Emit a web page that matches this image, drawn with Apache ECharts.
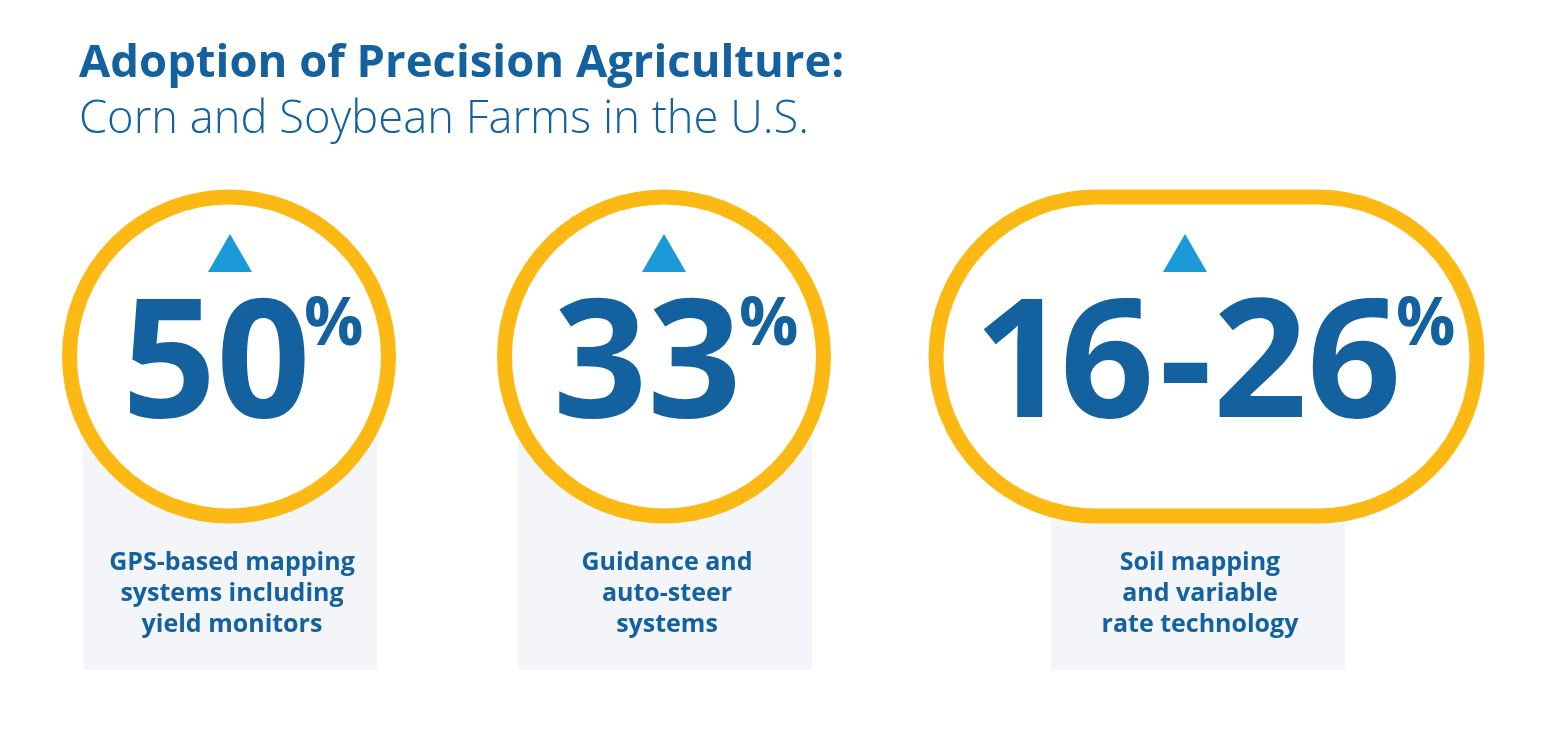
<!DOCTYPE html>
<html>
<head>
<meta charset="utf-8">
<style>
  html, body { margin: 0; padding: 0; background: #fff; }
  #chart { width: 1548px; height: 734px; }
</style>
</head>
<body>
<div id="chart"></div>
<script src="https://cdn.jsdelivr.net/npm/echarts@6/dist/echarts.min.js"></script>
<script>
const titleMain = 'Adoption of Precision Agriculture:';
const titleSub = 'Corn and Soybean Farms in the U.S.';
const categories = [
  'GPS-based mapping\nsystems including\nyield monitors',
  'Guidance and\nauto-steer\nsystems',
  'Soil mapping\nand variable\nrate technology',
];
const lowValues = [50, 33, 16];
const highValues = [50, 33, 26];

const BLUE = '#13629f';
const GOLD = '#fdb913';
const SKY = '#1a9ad6';
const PANEL = '#f4f5f9';
const FONT = '"Open Sans", sans-serif';

// layout of each badge, in page pixels. The range figure is hand-kerned, so numX has one x per glyph
const layouts = [
  { left: 69.5, right: 388.5, panelX: 83, tri: 230, numX: [122], pct: 304 },
  { left: 504.5, right: 823.5, panelX: 518, tri: 664, numX: [553], pct: 739 },
  { left: 936, right: 1477, panelX: 1051, tri: 1185, numX: [974, 1060, 1159, 1213, 1307], pct: 1396 },
];
const RING_TOP = 197;
const RING_H = 319;
const PANEL_W = 294;
const PANEL_BOTTOM = 670;

function renderBadge(params, api) {
  const i = api.value(0);
  const low = api.value(1);
  const high = api.value(2);
  const l = layouts[i];
  const numText = low === high ? String(low) : low + '-' + high;
  const pieces = l.numX.length > 1 ? numText.split('') : [numText];
  const midY = RING_TOP + RING_H / 2;
  return {
    type: 'group',
    children: [
      {
        type: 'rect',
        shape: { x: l.panelX, y: midY, width: PANEL_W, height: PANEL_BOTTOM - midY },
        style: { fill: PANEL },
      },
      {
        type: 'rect',
        shape: { x: l.left, y: RING_TOP, width: l.right - l.left, height: RING_H, r: RING_H / 2 },
        style: { fill: '#fff', stroke: GOLD, lineWidth: 15 },
      },
      {
        type: 'polygon',
        shape: { points: [[l.tri, 234], [l.tri + 22, 272], [l.tri - 22, 272]] },
        style: { fill: SKY },
      },
      ...pieces.map((piece, k) => ({
        type: 'text',
        style: {
          x: l.numX[k], y: 370, text: piece, fill: BLUE, align: 'left', verticalAlign: 'middle',
          font: '700 165px ' + FONT,
        },
      })),
      {
        type: 'text',
        style: {
          x: l.pct, y: 326, text: '%', fill: BLUE, align: 'left', verticalAlign: 'middle',
          font: '700 66px ' + FONT,
        },
      },
      {
        type: 'text',
        style: {
          x: l.panelX + PANEL_W / 2 + 2, y: 594, text: categories[i], fill: BLUE,
          align: 'center', verticalAlign: 'middle', lineHeight: 31,
          font: '700 25px ' + FONT,
        },
      },
    ],
  };
}

const chart = echarts.init(document.getElementById('chart'), null, { renderer: 'canvas' });
chart.setOption({
  animation: false,
  backgroundColor: '#fff',
  title: [
    {
      text: titleMain, left: 74, top: 37,
      textStyle: { color: BLUE, fontFamily: FONT, fontWeight: 700, fontSize: 45.4 },
    },
    {
      text: titleSub, left: 74, top: 93,
      textStyle: { color: BLUE, fontFamily: FONT, fontWeight: 300, fontSize: 45.3 },
    },
  ],
  series: [
    {
      type: 'custom',
      coordinateSystem: 'none',
      silent: true,
      renderItem: renderBadge,
      data: categories.map((c, i) => [i, lowValues[i], highValues[i]]),
    },
  ],
});
</script>
</body>
</html>
